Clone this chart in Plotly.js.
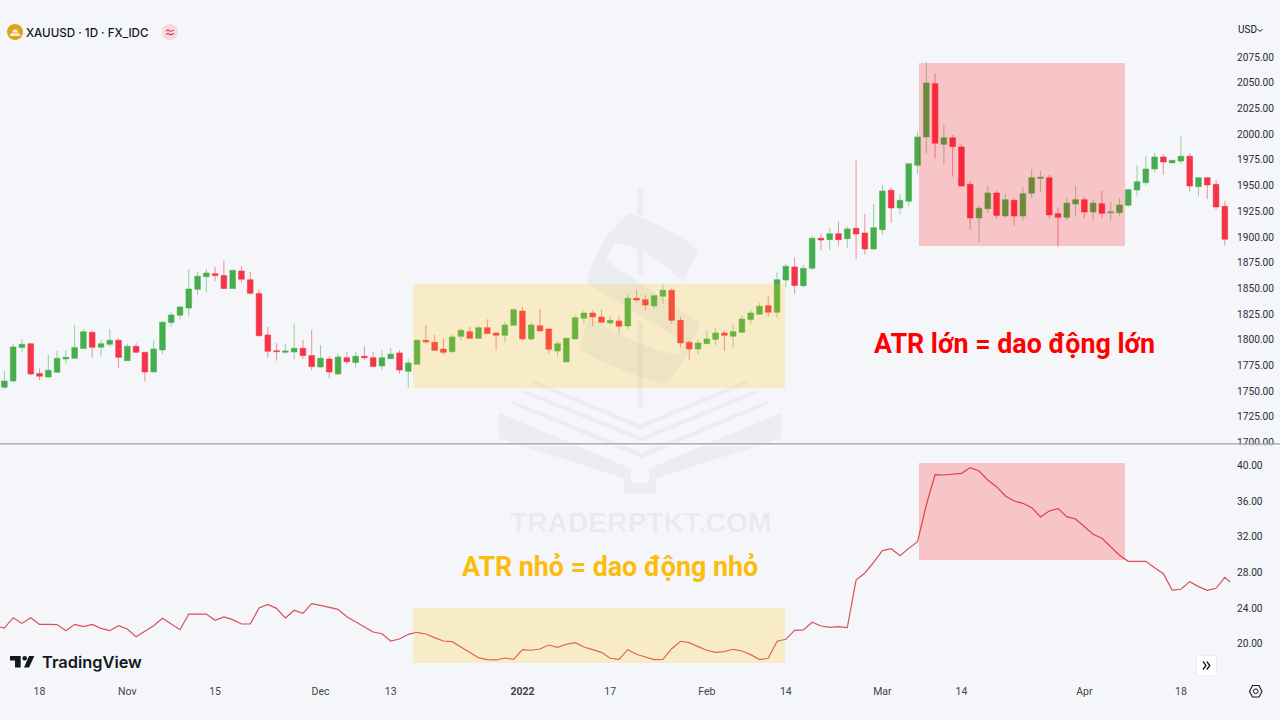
<!DOCTYPE html>
<html><head><meta charset="utf-8">
<script src="https://cdn.plot.ly/plotly-3.0.1.min.js"></script>
<style>html,body{margin:0;padding:0;background:#f5f6f9;overflow:hidden}#c{width:1280px;height:720px}</style>
</head><body><div id="c"></div>
<script>
const opens=[1753.8,1759.9,1792.4,1796.2,1767.1,1763.8,1768.4,1781.3,1782,1791.4,
1807.3,1792.7,1795.6,1799.5,1779.7,1793.6,1787.8,1768.7,1790.1,1816.7,
1823.8,1830.9,1849.1,1861.4,1864.3,1862.4,1849.8,1866.9,1858.5,1844.9,
1804.7,1789.4,1787.8,1788.1,1791.7,1784.6,1773.5,1781.3,1766.7,1782.6,
1777.8,1783.9,1782.6,1774.5,1781.6,1787.2,1769.3,1776.1,1799.5,1797.5,
1791,1788.4,1803.4,1807.9,1801.4,1811.8,1806.6,1804.3,1814.1,1828,
1800.8,1813.7,1810.5,1789.1,1778.4,1800.8,1820.9,1826.1,1822.2,1816.3,
1818.3,1813.4,1840.3,1839,1832.9,1842.3,1848.1,1818.9,1797.5,1791,
1796.2,1800.4,1806.6,1803.4,1807.3,1819.6,1824.8,1833.2,1826.7,1858.1,
1870.8,1852.6,1869.5,1898.7,1897.4,1903.2,1898.3,1908.4,1903.9,1888.3,
1907.1,1945.4,1928.2,1934.7,1969.7,1997.3,2049.1,1990.1,1996.6,1987.5,
1951.2,1918.5,1927.5,1942.8,1920.4,1935.6,1920.4,1942.5,1957,1957.7,
1922.7,1919.1,1932.1,1936.3,1924.3,1932.4,1923.6,1923.6,1930.8,1945.7,
1952.8,1966.1,1977.8,1972,1973.9,1978.5,1948.9,1957.7,1951.2,1929.8];
const closes=[1759.9,1793,1795.6,1766.7,1764.5,1770.3,1782,1782.9,1792.4,1807.9,
1792.7,1796.2,1799.5,1782.9,1793.6,1787.8,1768.7,1791.1,1817,1824.1,
1831.9,1849.4,1861.8,1865,1862.4,1849.8,1867.6,1858.8,1845.2,1804,
1788.8,1788.5,1789.1,1791.7,1784.6,1773.9,1782,1768.7,1783.3,1778.7,
1783.9,1782.6,1773.9,1782.6,1785.9,1770.6,1777.4,1799.5,1797.9,1789.7,
1787.8,1802.7,1809.2,1801.4,1811.8,1806,1804.3,1814.4,1829.3,1800.8,
1814.4,1808.6,1790.7,1796.2,1801.4,1821.5,1826.1,1822.2,1817,1818.9,
1813.1,1840.3,1838.7,1833.8,1842.9,1848.1,1818.9,1796.9,1791,1796.9,
1800.8,1806.6,1804.3,1807.9,1820.2,1826.1,1832.6,1826.7,1858.5,1871.4,
1852.9,1869.5,1898.7,1897,1903.2,1897.4,1907.8,1902.9,1888.3,1909,
1944.7,1928.2,1935.6,1971.3,1997.3,2049.8,1991.1,1996.6,1987.9,1949.6,
1918.5,1927.9,1942.8,1921,1936.3,1920.4,1942.1,1957.7,1958,1921.4,
1919.1,1933,1936.3,1924.3,1933,1923,1924.3,1931.1,1946,1953.8,
1966.1,1977.8,1972.9,1974.6,1978.5,1949.6,1957.7,1950.6,1929.2,1897.7];
const highs=[1769.6,1796.2,1800.8,1796.6,1772.2,1785.2,1789.1,1789.8,1814.4,1810.5,
1808.6,1799.8,1810.5,1801.4,1796.2,1796.9,1788.1,1799.5,1818.3,1826.7,
1833.2,1868.9,1866.3,1868.9,1870.8,1877.3,1867.9,1871.5,1866.3,1849.1,
1812.5,1796.9,1795.9,1815.7,1799.8,1809.5,1794.9,1783.9,1786.8,1788.1,
1788.5,1793.6,1788.1,1789.8,1792,1789.8,1781.3,1799.5,1814.4,1804.7,
1800.8,1805,1811.1,1812.4,1813.7,1819.9,1807.6,1817.6,1830.6,1831.9,
1817,1830,1810.8,1798.8,1802.1,1823.5,1828.7,1828.7,1829.3,1823.1,
1822.8,1843.6,1848.4,1843.6,1844.6,1854.3,1850.1,1822.2,1799.5,1800.1,
1809.5,1811.1,1809.2,1815,1824.1,1829.3,1835.8,1842.6,1865.6,1874.3,
1880.2,1872.7,1901.3,1902.9,1908.7,1914.6,1910,1974.6,1922.3,1932.1,
1950.6,1948.3,1941.8,1971.6,2002.4,2070.5,2059.2,2008.9,1999.2,1990.1,
1954.5,1930.1,1949.9,1945.4,1941.5,1938.2,1948.6,1966.1,1964.2,1960.3,
1928.8,1938.6,1949.6,1939.5,1936,1944.7,1933.7,1937.6,1947.3,1970,
1978.5,1981.4,1980.4,1974.9,1998.6,1981.4,1958,1958,1955.4,1935];
const lows=[1751.8,1758.6,1787.5,1765.4,1760.6,1763.5,1767.7,1776.8,1781.6,1791,
1782.6,1783.9,1793.3,1772.2,1779.4,1787.2,1759.3,1768.4,1785.9,1813.1,
1819.6,1822.8,1843.6,1845.9,1856.9,1849.4,1849.4,1855.3,1844.2,1803.1,
1782.6,1779.7,1786.2,1780.7,1781.6,1770.3,1772.9,1762.5,1766.1,1776.1,
1772.9,1780.4,1773.5,1770.3,1781.3,1767.1,1753.4,1776.1,1796.2,1789.4,
1785.2,1786.8,1799.5,1801.4,1801.4,1805.6,1789.7,1796.9,1813.7,1799.1,
1799.1,1808.2,1786.5,1783.3,1778.1,1800.8,1815,1813.1,1816,1814.1,
1806,1810.5,1837.1,1829,1830.3,1834.8,1815.4,1792.3,1780.7,1785.9,
1796.2,1794.9,1789.1,1792.3,1806.9,1815.7,1824.4,1822.2,1821.5,1851.3,
1844.8,1850.7,1867.9,1887,1887.3,1891.5,1889.6,1878.6,1883.1,1888.3,
1901.9,1913.9,1922,1929.8,1960.9,1981,1976.5,1970.7,1958.7,1949.3,
1907.1,1895.4,1923.3,1917.8,1918.5,1911,1915.5,1937.9,1943.4,1918.1,
1890.6,1915.9,1919.8,1918.1,1915.9,1918.1,1915.9,1920.4,1928.8,1940.2,
1949.9,1962.9,1960.9,1972,1971,1944.1,1939.5,1936.9,1926.9,1891.5];
const atrValues=[21.98,21.75,22.91,22.27,22.91,22.16,22.16,22.13,21.45,22.16,21.90,
22.16,21.71,21.45,22.01,21.64,20.78,21.38,22.01,22.84,22.20,
21.56,23.32,23.32,23.32,22.61,22.99,22.69,22.20,22.20,24.00,
24.41,23.96,22.87,23.74,23.40,24.48,24.30,24.11,23.85,23.02,
22.46,21.86,21.30,21.11,20.29,20.51,21.04,21.27,21.08,20.67,
20.29,20.22,19.62,18.95,18.42,18.20,18.16,18.38,18.23,19.32,
19.25,19.39,19.84,19.58,19.92,20.11,19.62,19.32,19.02,18.35,
18.23,19.32,18.80,18.50,18.20,18.23,19.43,20.26,20.11,19.66,
19.25,19.02,19.10,19.36,19.17,18.76,18.20,18.35,20.26,20.48,
21.49,21.53,22.39,21.98,21.83,21.90,21.79,27.14,27.93,29.13,
30.44,30.66,29.88,30.70,31.45,35.57,38.98,38.94,39.02,39.13,
39.77,39.39,38.38,37.63,36.58,36.02,35.76,35.27,34.22,34.90,
35.16,34.26,34.00,33.10,32.28,31.83,30.89,29.92,29.24,29.24,
29.24,28.53,27.86,26.02,26.10,26.96,26.40,25.98,26.21,27.44,26.92];
const atrIndex=atrValues.map((v,k)=>k-1);
atrIndex[atrIndex.length-1]=139.6;
const candleIndex=opens.map((v,k)=>k);
const dateTickPositions=[4,14,24,36,44,59,69,80,89,100,109,123,134];
const dateTickLabels=['18','Nov','15','Dec','13','<b>2022</b>','17','Feb','14','Mar','14','Apr','18'];
const priceTicks=[1700,1725,1750,1775,1800,1825,1850,1875,1900,1925,1950,1975,2000,2025,2050,2075];
const atrTicks=[20,24,28,32,36,40];

const PW=1233,PH=680;
const fx=p=>p/PW, fy=p=>1-p/PH;
const wm='rgba(50,55,70,0.045)';
function pathOf(pts,close){
  return pts.map((q,i)=>q.length===4
    ? 'Q'+fx(q[0])+' '+fy(q[1])+' '+fx(q[2])+' '+fy(q[3])
    : (i?'L':'M')+fx(q[0])+' '+fy(q[1])).join(' ')+(close?' Z':'');
}
function poly(pts,fill,layer){
  return {type:'path',xref:'paper',yref:'paper',path:pathOf(pts,true),fillcolor:fill,line:{width:0},layer:layer||'below'};
}
function stroke(pts,color,w,close){
  return {type:'path',xref:'paper',yref:'paper',path:pathOf(pts,!!close),fillcolor:'rgba(0,0,0,0)',line:{color:color,width:w},layer:'above'};
}
const wz=a=>a.map(q=>q.length===4?[480+q[0]/3,170+q[1]/3,480+q[2]/3,170+q[3]/3]:[480+q[0]/3,170+q[1]/3]);
const shapes=[
 poly(wz([[472,53],[490,53],[490,135],[472,135]]),wm),
 poly(wz([[472,235],[490,245],[490,322],[472,312]]),wm),
 poly(wz([[472,450],[490,460],[490,715],[472,715]]),wm),
 poly(wz([[445,130],[560,165,655,240],[610,335],[540,270,490,245],[440,222,405,220],[378,270],[660,460],[630,560,555,645],[420,605,298,540],[325,440],[460,525,590,555],[615,518],[318,340],[350,210,445,130]]),wm),
 poly(wz([[165,632],[480,762],[795,632],[805,640],[480,778],[155,640]]),wm),
 poly(wz([[125,668],[135,660],[485,800],[825,660],[835,668],[485,815]]),wm),
 poly(wz([[88,700],[100,692],[485,848],[860,692],[870,700],[485,865]]),wm),
 poly(wz([[57,728],[452,895],[452,940],[508,940],[508,895],[903,728],[903,805],[528,925],[528,972],[432,972],[432,925],[57,805]]),wm),
 {type:'line',xref:'paper',yref:'paper',x0:0,x1:1280/PW,y0:fy(443.9),y1:fy(443.9),line:{color:'#a0a2a8',width:1.5},layer:'above'},
 {type:'line',xref:'paper',yref:'paper',x0:0,x1:1280/PW,y0:fy(445.3),y1:fy(445.3),line:{color:'#ffffff',width:1},layer:'above'},
 {type:'rect',xref:'x',yref:'y',x0:46.54,x1:88.9,y0:1753.1,y1:1854.3,fillcolor:'rgba(255,193,7,0.2)',line:{width:0},layer:'above'},
 {type:'rect',xref:'x',yref:'y2',x0:46.54,x1:88.9,y0:17.82,y1:24,fillcolor:'rgba(255,193,7,0.2)',line:{width:0},layer:'above'},
 {type:'rect',xref:'x',yref:'y',x0:104.17,x1:127.63,y0:1891.2,y1:2069.3,fillcolor:'rgba(255,0,0,0.2)',line:{width:0},layer:'above'},
 {type:'rect',xref:'x',yref:'y2',x0:104.17,x1:127.63,y0:29.39,y1:40.29,fillcolor:'rgba(255,0,0,0.2)',line:{width:0},layer:'above'},
 {type:'circle',xref:'paper',yref:'paper',x0:fx(7),x1:fx(23),y0:fy(40),y1:fy(24),fillcolor:'#dea31f',line:{width:0},layer:'above'},
 poly([[9.5,36],[11.5,33.2],[14.8,33.2],[15.8,36]],'#fbf1d6','above'),
 poly([[14.5,36],[15.5,33.2],[18.8,33.2],[20.8,36]],'#fbf1d6','above'),
 poly([[12,32.4],[13.5,29.5],[16.8,29.5],[18.2,32.4]],'#fbf1d6','above'),
 {type:'circle',xref:'paper',yref:'paper',x0:fx(162),x1:fx(178),y0:fy(40),y1:fy(24),fillcolor:'#f6d9de',line:{width:0},layer:'above'},
 stroke([[166.2,31],[168,30],[170,31.2],[172,31],[173.8,30]],'#e5364a',1.1),
 stroke([[166.2,34.4],[168,33.4],[170,34.6],[172,34.4],[173.8,33.4]],'#e5364a',1.1),
 stroke([[1257.5,29],[1260,31.5],[1262.5,29]],'#131722',1),
 poly([[10,656],[20.7,656],[20.7,667.4],[15,667.4],[15,660.4],[10,660.4]],'#131722','above'),
 poly([[29,656],[34.4,656],[29,667.4],[24,667.4]],'#131722','above'),
 {type:'circle',xref:'paper',yref:'paper',x0:fx(22.4),x1:fx(27),y0:fy(660.6),y1:fy(656),fillcolor:'#131722',line:{width:0},layer:'above'},
 {type:'rect',xref:'paper',yref:'paper',x0:fx(1196.5),x1:fx(1216.5),y0:fy(675.5),y1:fy(655.5),fillcolor:'#ffffff',line:{color:'#eceef2',width:1},layer:'above'},
 stroke([[1203,661.5],[1206,665.5],[1203,669.5]],'#131722',1.3),
 stroke([[1206.8,661.5],[1209.8,665.5],[1206.8,669.5]],'#131722',1.3),
 stroke([[1259,685.5],[1262,691.5],[1259,697],[1252.5,697],[1249.5,691.5],[1252.5,685.5]],'#131722',1.1,true),
 {type:'circle',xref:'paper',yref:'paper',x0:fx(1253.4),x1:fx(1258.1),y0:fy(693.6),y1:fy(688.9),fillcolor:'rgba(0,0,0,0)',line:{color:'#131722',width:1},layer:'above'}
];
function note(text,x,y,size,color,family,weight){
  return {xref:'paper',yref:'paper',x:fx(x),y:fy(y),text:text,showarrow:false,xanchor:'left',yanchor:'middle',
    font:{family:family,size:size,color:color,weight:weight||400},borderpad:0,borderwidth:0};
}
const annotations=[
 note('XAUUSD · 1D · FX_IDC',25.5,32.5,11.6,'#131722','Inter, sans-serif',500),
 note('USD',1238,30,10,'#131722','Roboto'),
 note('<b>ATR lớn = dao động lớn</b>',874,344,26.8,'#ff0000','Roboto'),
 note('<b>ATR nhỏ = dao động nhỏ</b>',462,567,26.8,'#fbbc0e','Roboto'),
 note('<b>TRADERPTKT.COM</b>',510,522,28.2,'rgba(50,55,70,0.07)','Liberation Sans'),
 note('TradingView',41.5,662,16.4,'#131722','Inter',600)
];
const data=[
 {type:'candlestick',x:candleIndex,open:opens,high:highs,low:lows,close:closes,xaxis:'x',yaxis:'y',
  increasing:{line:{color:'rgba(76,175,80,0.55)',width:1},fillcolor:'#46ad4c'},
  decreasing:{line:{color:'rgba(242,54,69,0.55)',width:1},fillcolor:'#f5344a'},
  hoverinfo:'skip',whiskerwidth:0},
 {type:'scatter',mode:'lines',x:atrIndex,y:atrValues,xaxis:'x',yaxis:'y2',line:{color:'#d9505a',width:1.2},hoverinfo:'skip'}
];
const tickFont={family:'Roboto',size:10.2,color:'#2a2e39'};
const layout={
 width:1280,height:720,margin:{l:0,r:47,t:0,b:40,pad:0},
 paper_bgcolor:'#f5f6f9',plot_bgcolor:'#f5f6f9',showlegend:false,boxgap:0.2,boxgroupgap:0.19,
 xaxis:{range:[-0.501,139.93],domain:[0,1],anchor:'y2',rangeslider:{visible:false},showgrid:false,zeroline:false,showline:false,
  tickmode:'array',tickvals:dateTickPositions,ticktext:dateTickLabels,ticks:'',tickfont:{family:'Roboto',size:10.5,color:'#444'},ticklabelstandoff:3},
 yaxis:{domain:[1-443.5/PH,1],range:[1699.1,2130.5],side:'right',anchor:'x',showgrid:false,zeroline:false,showline:false,
  tickmode:'array',tickvals:priceTicks,ticktext:priceTicks.map(v=>v.toFixed(2)),ticks:'',tickfont:tickFont,ticklabelstandoff:3},
 yaxis2:{domain:[0,1-445/PH],range:[15.91,42.31],side:'right',anchor:'x',showgrid:false,zeroline:false,showline:false,
  tickmode:'array',tickvals:atrTicks,ticktext:atrTicks.map(v=>v.toFixed(2)),ticks:'',tickfont:tickFont,ticklabelstandoff:3},
 shapes:shapes,annotations:annotations
};
Plotly.newPlot('c',data,layout,{displayModeBar:false,staticPlot:true,responsive:false});
</script></body></html>
